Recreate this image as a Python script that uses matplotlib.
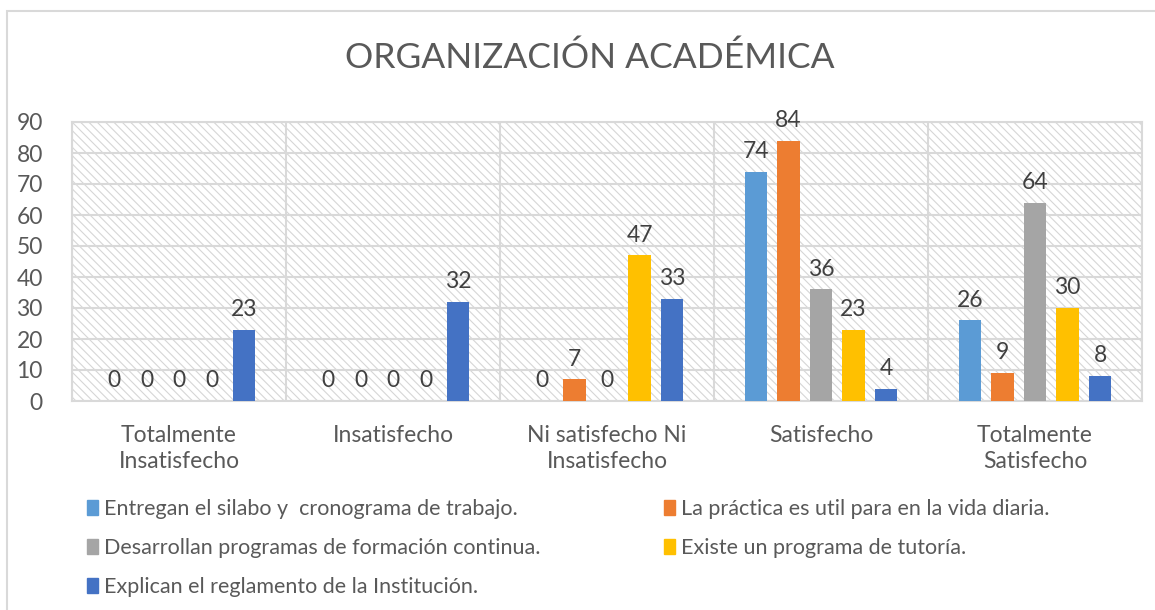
import matplotlib
matplotlib.use('Agg')
import matplotlib.pyplot as plt
from matplotlib.patches import Rectangle, Patch
import numpy as np

# data
categories = ['Totalmente\nInsatisfecho', 'Insatisfecho', 'Ni satisfecho Ni\nInsatisfecho',
              'Satisfecho', 'Totalmente\nSatisfecho']
series_names = ['Entregan el silabo y  cronograma de trabajo.',
                'La práctica es util para en la vida diaria.',
                'Desarrollan programas de formación continua.',
                'Existe un programa de tutoría.',
                'Explican el reglamento de la Institución.']
silabo = [0, 0, 0, 74, 26]
practica = [0, 0, 7, 84, 9]
formacion = [0, 0, 0, 36, 64]
tutoria = [0, 0, 47, 23, 30]
reglamento = [23, 32, 33, 4, 8]
colors = ['#5B9BD5', '#ED7D31', '#A5A5A5', '#FFC000', '#4472C4']

plt.rcParams['font.family'] = ['Lato', 'DejaVu Sans']
plt.rcParams['hatch.linewidth'] = 0.8

W, H = 1155, 610
fig = plt.figure(figsize=(W / 100, H / 100), dpi=100)

# outer chart frame (runs off the right and bottom edges)
fig.patches.append(Rectangle((7 / W, -0.05), 1.1, 1.05 - 11 / H, transform=fig.transFigure,
                             facecolor='none', edgecolor='#d9d9d9', lw=1.5))

ax = fig.add_axes([72 / W, 1 - 401 / H, (1142 - 72) / W, (401 - 122) / H])
ax.set_facecolor('white')
ax.add_patch(Rectangle((0, 0), 1, 1, transform=ax.transAxes, facecolor='white',
                       edgecolor='#d6d6d6', hatch='\\\\\\\\', lw=0, zorder=0))

x = np.arange(len(categories))
pitch = 0.152
width = 0.105
all_series = [silabo, practica, formacion, tutoria, reglamento]
for i, (vals, c) in enumerate(zip(all_series, colors)):
    bars = ax.bar(x + (i - 2) * pitch, vals, width, color=c, zorder=3, label=series_names[i])
    ax.bar_label(bars, padding=7, fontsize=16.5, color='#404040')

ax.set_xlim(-0.5, len(categories) - 0.5)
ax.set_ylim(0, 90)
ax.set_yticks(range(0, 91, 10))
ax.set_xticks(x)
ax.set_xticklabels(categories, linespacing=1.3)
ax.set_xticks(np.arange(-0.5, len(categories), 1), minor=True)
ax.grid(axis='y', which='major', color='#d9d9d9', lw=1.5, zorder=1)
ax.grid(axis='x', which='minor', color='#d9d9d9', lw=1.5, zorder=1)
ax.tick_params(axis='both', which='both', length=0, labelsize=16.5, colors='#595959')
ax.tick_params(axis='y', pad=21)
ax.tick_params(axis='x', pad=17)
for s in ax.spines.values():
    s.set_color('#d9d9d9')
    s.set_linewidth(1.5)

fig.text(590 / W, 1 - 58 / H, 'ORGANIZACIÓN ACADÉMICA', ha='center', va='center',
         fontsize=25.5, color='#595959')

# legend: two columns filled row by row
handles = [Patch(color=c) for c in colors]
leg_kw = dict(frameon=False, fontsize=15.5, labelcolor='#595959', handlelength=0.5,
              handleheight=0.7, handletextpad=0.3, labelspacing=0.88, borderpad=0,
              loc='upper left')
fig.legend([handles[0], handles[2], handles[4]],
           [series_names[0], series_names[2], series_names[4]],
           bbox_to_anchor=(76 / W, 1 - 488 / H), **leg_kw)
fig.legend([handles[1], handles[3]], [series_names[1], series_names[3]],
           bbox_to_anchor=(653 / W, 1 - 488 / H), **leg_kw)

fig.savefig('out.png', dpi=100)
